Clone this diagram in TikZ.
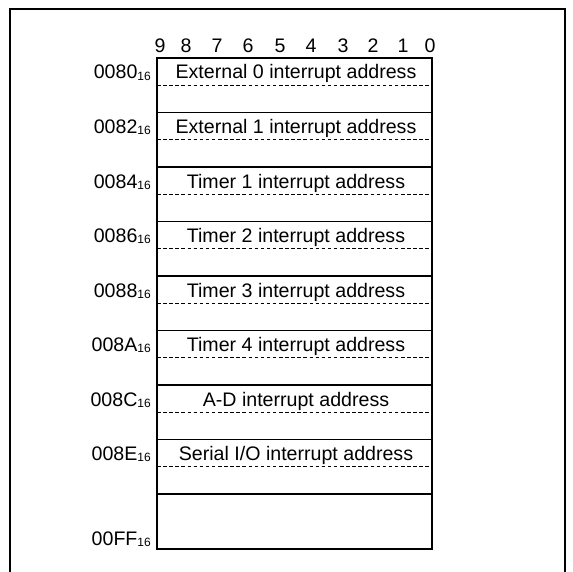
\documentclass[tikz,border=0pt]{standalone}
\usepackage{fontspec}
\setmainfont{Liberation Sans}
\newcommand\hexsub[1]{#1\raisebox{-1.2pt}{\fontsize{12}{12}\selectfont 16}}
\begin{document}
\begin{tikzpicture}[x=1pt,y=-1pt,
  txt/.style={font=\fontsize{19.6}{21}\selectfont, inner sep=0pt},
  addr/.style={txt, anchor=base east},
  cell/.style={txt, anchor=base},
  frameline/.style={line width=1.6pt},
  boxline/.style={line width=1.9pt},
  dashline/.style={line width=0.9pt, dash pattern=on 3.5pt off 2.6pt}]
\useasboundingbox (0,0) rectangle (572,572);
% outer frame (open at the bottom)
\draw[frameline] (10,572) -- (10,9) -- (565,9) -- (565,572);
% bit numbers
\foreach \d/\x in {9/160,8/186,7/217,6/248,5/280,4/311,3/343,2/373,1/403,0/430}
  \node[cell] (bit\d) at (\x,53) {\d};
% memory box
\coordinate (tl) at (157,58);
\coordinate (br) at (432,549);
\draw[boxline] (tl) rectangle (br);
\foreach \i/\a/\t in {0/0080/{External 0 interrupt address},
                     1/0082/{External 1 interrupt address},
                     2/0084/{Timer 1 interrupt address},
                     3/0086/{Timer 2 interrupt address},
                     4/0088/{Timer 3 interrupt address},
                     5/008A/{Timer 4 interrupt address},
                     6/008C/{A-D interrupt address},
                     7/008E/{Serial I/O interrupt address}}{
  \pgfmathsetmacro\top{58+54.5*\i}
  \pgfmathsetmacro\dash{\top+27}
  \pgfmathsetmacro\low{\top+54.5}
  \coordinate (dl\i) at (157,\dash);
  \coordinate (dr\i) at (432,\dash);
  \coordinate (sl\i) at (157,\low);
  \coordinate (sr\i) at (432,\low);
  \draw[dashline] (dl\i) -- (dr\i);
  \draw[boxline] (sl\i) -- (sr\i);
  \node[addr] (a\i) at (151,\top+21) {\hexsub{\a}};
  \node[cell] (t\i) at (296,\top+21) {\t};
}
\node[addr] (aff) at (151,545) {\hexsub{00FF}};
\end{tikzpicture}
\end{document}
